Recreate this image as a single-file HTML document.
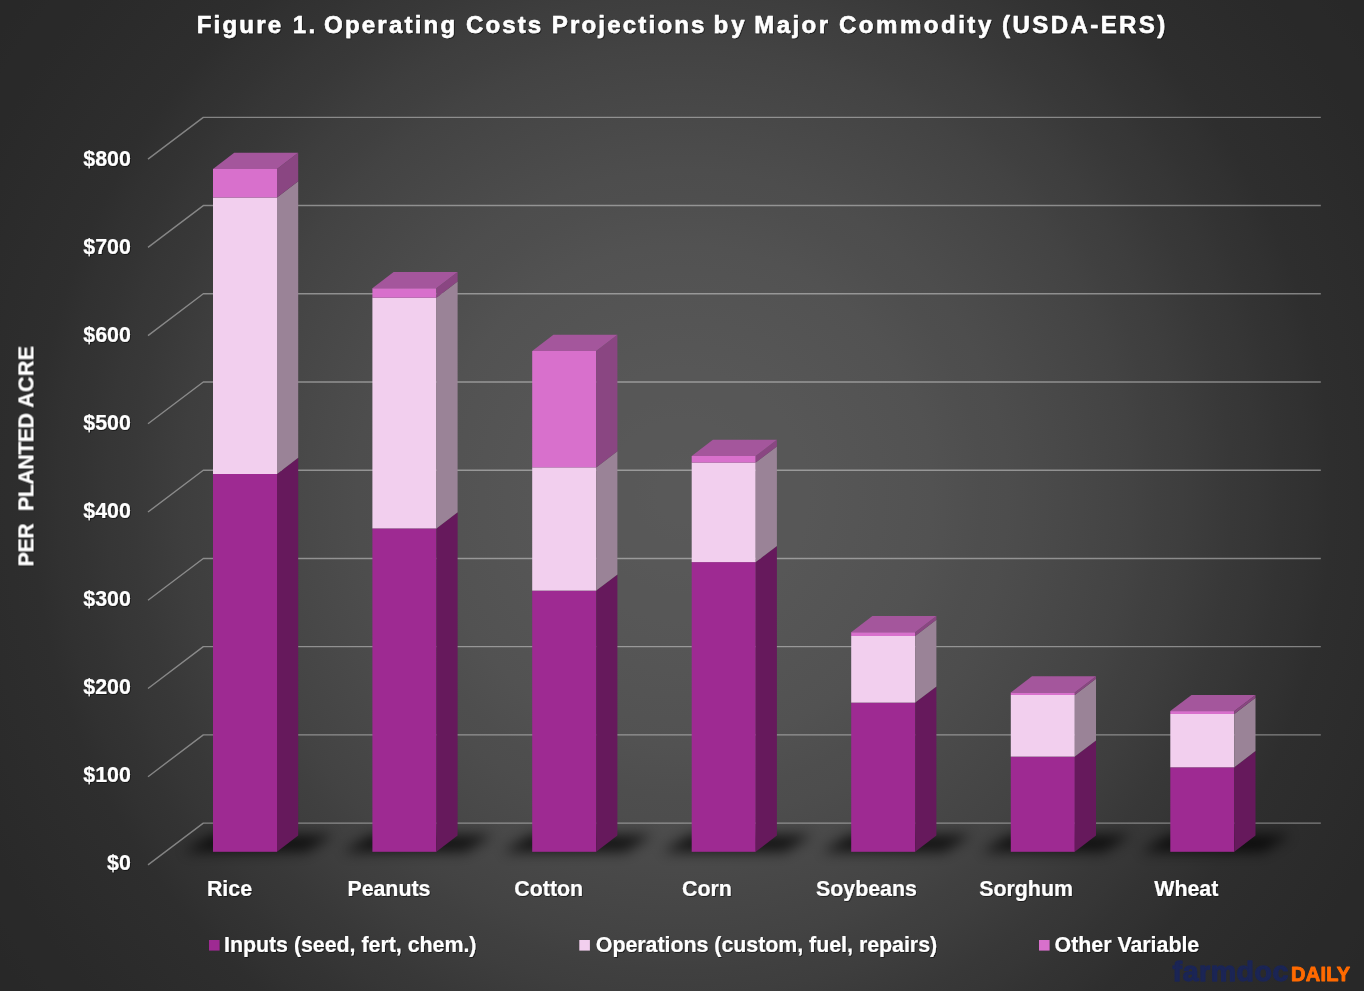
<!DOCTYPE html>
<html lang="en"><head><meta charset="utf-8"><title>Figure 1. Operating Costs Projections by Major Commodity (USDA-ERS)</title>
<style>html,body{margin:0;padding:0;background:#2b2b2b;}body{width:1364px;height:991px;overflow:hidden;font-family:"Liberation Sans",sans-serif;}svg{display:block}</style>
</head><body>
<svg width="1364" height="991" viewBox="0 0 1364 991">
<defs>
<radialGradient id="bg" gradientUnits="userSpaceOnUse" cx="682" cy="495.5" r="850">
<stop offset="0.0000" stop-color="#595959"/><stop offset="0.0294" stop-color="#595959"/><stop offset="0.0588" stop-color="#585858"/><stop offset="0.0882" stop-color="#585858"/><stop offset="0.1176" stop-color="#575757"/><stop offset="0.1471" stop-color="#575757"/><stop offset="0.1765" stop-color="#565656"/><stop offset="0.2059" stop-color="#555555"/><stop offset="0.2353" stop-color="#545454"/><stop offset="0.2647" stop-color="#535353"/><stop offset="0.2941" stop-color="#525252"/><stop offset="0.3235" stop-color="#505050"/><stop offset="0.3529" stop-color="#4e4e4e"/><stop offset="0.3824" stop-color="#4d4d4d"/><stop offset="0.4118" stop-color="#4b4b4b"/><stop offset="0.4412" stop-color="#494949"/><stop offset="0.4706" stop-color="#474747"/><stop offset="0.5000" stop-color="#454545"/><stop offset="0.5294" stop-color="#434343"/><stop offset="0.5588" stop-color="#404040"/><stop offset="0.5882" stop-color="#3e3e3e"/><stop offset="0.6176" stop-color="#3b3b3b"/><stop offset="0.6471" stop-color="#383838"/><stop offset="0.6765" stop-color="#363636"/><stop offset="0.7059" stop-color="#333333"/><stop offset="0.7353" stop-color="#313131"/><stop offset="0.7647" stop-color="#2e2e2e"/><stop offset="0.7941" stop-color="#2d2d2d"/><stop offset="0.8235" stop-color="#2c2c2c"/><stop offset="0.8529" stop-color="#2b2b2b"/><stop offset="0.8824" stop-color="#2a2a2a"/><stop offset="0.9118" stop-color="#292929"/><stop offset="0.9412" stop-color="#292929"/><stop offset="0.9706" stop-color="#282828"/><stop offset="1.0000" stop-color="#282828"/>
</radialGradient>
<filter id="blur" x="-30%" y="-80%" width="160%" height="260%"><feGaussianBlur stdDeviation="6.5"/></filter>
<filter id="ts" x="-5%" y="-20%" width="110%" height="150%"><feDropShadow dx="0.8" dy="0.9" stdDeviation="0.7" flood-color="#000" flood-opacity="0.55"/></filter>
</defs>
<rect width="1364" height="991" fill="url(#bg)"/>
<g stroke="#fff" stroke-opacity="0.4" stroke-width="1.4" stroke-linejoin="round" fill="none">
<path d="M148.00 159.15L203.30 117.35H1320.8"/>
<path d="M148.00 247.37L203.30 205.57H1320.8"/>
<path d="M148.00 335.59L203.30 293.79H1320.8"/>
<path d="M148.00 423.81L203.30 382.01H1320.8"/>
<path d="M148.00 512.03L203.30 470.23H1320.8"/>
<path d="M148.00 600.25L203.30 558.45H1320.8"/>
<path d="M148.00 688.47L203.30 646.67H1320.8"/>
<path d="M148.00 776.69L203.30 734.89H1320.8"/>
<path d="M148.00 864.91L203.30 823.11H1320.8"/>
</g>
<g filter="url(#blur)" fill="#000" opacity="0.74">
<path d="M184.0 851.8H306.0L333.2 835.1H211.2Z"/>
<path d="M343.4 851.8H465.4L492.6 835.1H370.6Z"/>
<path d="M503.2 851.8H625.2L652.4 835.1H530.4Z"/>
<path d="M662.7 851.8H784.7L811.9 835.1H689.9Z"/>
<path d="M822.2 851.8H944.2L971.4 835.1H849.4Z"/>
<path d="M981.8 851.8H1103.8L1131.0 835.1H1009.0Z"/>
<path d="M1141.3 851.8H1263.3L1290.5 835.1H1168.5Z"/>
</g>
<rect x="213.0" y="474.0" width="64.0" height="377.8" fill="#9E2A92"/>
<path d="M277.0 474.0L298.2 457.8V835.6L277.0 851.8Z" fill="#66195C"/>
<rect x="213.0" y="197.5" width="64.0" height="276.5" fill="#F2CFEE"/>
<path d="M277.0 197.5L298.2 181.3V457.8L277.0 474.0Z" fill="#9A8397"/>
<rect x="213.0" y="168.9" width="64.0" height="28.6" fill="#D870CC"/>
<path d="M277.0 168.9L298.2 152.7V181.3L277.0 197.5Z" fill="#8A4682"/>
<path d="M213.0 168.9L234.2 152.7H298.2L277.0 168.9Z" fill="#A4569C"/>
<rect x="372.4" y="528.4" width="64.0" height="323.4" fill="#9E2A92"/>
<path d="M436.4 528.4L457.6 512.2V835.6L436.4 851.8Z" fill="#66195C"/>
<rect x="372.4" y="297.7" width="64.0" height="230.7" fill="#F2CFEE"/>
<path d="M436.4 297.7L457.6 281.5V512.2L436.4 528.4Z" fill="#9A8397"/>
<rect x="372.4" y="288.2" width="64.0" height="9.5" fill="#D870CC"/>
<path d="M436.4 288.2L457.6 272.0V281.5L436.4 297.7Z" fill="#8A4682"/>
<path d="M372.4 288.2L393.6 272.0H457.6L436.4 288.2Z" fill="#A4569C"/>
<rect x="532.2" y="590.6" width="64.0" height="261.2" fill="#9E2A92"/>
<path d="M596.2 590.6L617.4 574.4V835.6L596.2 851.8Z" fill="#66195C"/>
<rect x="532.2" y="467.4" width="64.0" height="123.2" fill="#F2CFEE"/>
<path d="M596.2 467.4L617.4 451.2V574.4L596.2 590.6Z" fill="#9A8397"/>
<rect x="532.2" y="351.0" width="64.0" height="116.4" fill="#D870CC"/>
<path d="M596.2 351.0L617.4 334.8V451.2L596.2 467.4Z" fill="#8A4682"/>
<path d="M532.2 351.0L553.4 334.8H617.4L596.2 351.0Z" fill="#A4569C"/>
<rect x="691.7" y="562.1" width="64.0" height="289.7" fill="#9E2A92"/>
<path d="M755.7 562.1L776.9 545.9V835.6L755.7 851.8Z" fill="#66195C"/>
<rect x="691.7" y="462.6" width="64.0" height="99.5" fill="#F2CFEE"/>
<path d="M755.7 462.6L776.9 446.4V545.9L755.7 562.1Z" fill="#9A8397"/>
<rect x="691.7" y="456.0" width="64.0" height="6.6" fill="#D870CC"/>
<path d="M755.7 456.0L776.9 439.8V446.4L755.7 462.6Z" fill="#8A4682"/>
<path d="M691.7 456.0L712.9 439.8H776.9L755.7 456.0Z" fill="#A4569C"/>
<rect x="851.2" y="702.6" width="64.0" height="149.2" fill="#9E2A92"/>
<path d="M915.2 702.6L936.4 686.4V835.6L915.2 851.8Z" fill="#66195C"/>
<rect x="851.2" y="636.0" width="64.0" height="66.6" fill="#F2CFEE"/>
<path d="M915.2 636.0L936.4 619.8V686.4L915.2 702.6Z" fill="#9A8397"/>
<rect x="851.2" y="632.2" width="64.0" height="3.8" fill="#D870CC"/>
<path d="M915.2 632.2L936.4 616.0V619.8L915.2 636.0Z" fill="#8A4682"/>
<path d="M851.2 632.2L872.4 616.0H936.4L915.2 632.2Z" fill="#A4569C"/>
<rect x="1010.8" y="756.6" width="64.0" height="95.2" fill="#9E2A92"/>
<path d="M1074.8 756.6L1096.0 740.4V835.6L1074.8 851.8Z" fill="#66195C"/>
<rect x="1010.8" y="695.0" width="64.0" height="61.6" fill="#F2CFEE"/>
<path d="M1074.8 695.0L1096.0 678.8V740.4L1074.8 756.6Z" fill="#9A8397"/>
<rect x="1010.8" y="692.4" width="64.0" height="2.6" fill="#D870CC"/>
<path d="M1074.8 692.4L1096.0 676.2V678.8L1074.8 695.0Z" fill="#8A4682"/>
<path d="M1010.8 692.4L1032.0 676.2H1096.0L1074.8 692.4Z" fill="#A4569C"/>
<rect x="1170.3" y="767.3" width="64.0" height="84.5" fill="#9E2A92"/>
<path d="M1234.3 767.3L1255.5 751.1V835.6L1234.3 851.8Z" fill="#66195C"/>
<rect x="1170.3" y="714.0" width="64.0" height="53.3" fill="#F2CFEE"/>
<path d="M1234.3 714.0L1255.5 697.8V751.1L1234.3 767.3Z" fill="#9A8397"/>
<rect x="1170.3" y="711.1" width="64.0" height="2.9" fill="#D870CC"/>
<path d="M1234.3 711.1L1255.5 694.9V697.8L1234.3 714.0Z" fill="#8A4682"/>
<path d="M1170.3 711.1L1191.5 694.9H1255.5L1234.3 711.1Z" fill="#A4569C"/>
<g font-family="Liberation Sans, sans-serif" font-weight="bold" fill="#fff" stroke="#fff" stroke-width="0.15" stroke-linejoin="round" filter="url(#ts)">
<text y="33.3" font-size="24" stroke-width="0.55" xml:space="preserve"><tspan x="196.75" letter-spacing="2.2">Figure </tspan><tspan x="292.75" letter-spacing="2.5">1. </tspan><tspan x="324" letter-spacing="2.22">Operating </tspan><tspan x="466" letter-spacing="2.12">Costs </tspan><tspan x="551.75" letter-spacing="2.2">Projections </tspan><tspan x="713.5" letter-spacing="3.0">by </tspan><tspan x="754.25" letter-spacing="2.44">Major </tspan><tspan x="839" letter-spacing="2.53">Commodity </tspan><tspan x="1002" letter-spacing="2.44">(USDA-ERS)</tspan></text>
<text x="130.8" y="165.7" font-size="21.33" text-anchor="end">$800</text>
<text x="130.8" y="253.8" font-size="21.33" text-anchor="end">$700</text>
<text x="130.8" y="341.9" font-size="21.33" text-anchor="end">$600</text>
<text x="130.8" y="429.9" font-size="21.33" text-anchor="end">$500</text>
<text x="130.8" y="518.0" font-size="21.33" text-anchor="end">$400</text>
<text x="130.8" y="606.1" font-size="21.33" text-anchor="end">$300</text>
<text x="130.8" y="694.2" font-size="21.33" text-anchor="end">$200</text>
<text x="130.8" y="782.3" font-size="21.33" text-anchor="end">$100</text>
<text x="130.8" y="870.3" font-size="21.33" text-anchor="end">$0</text>
<text x="229.5" y="896" font-size="21.33" text-anchor="middle">Rice</text>
<text x="388.9" y="896" font-size="21.33" text-anchor="middle">Peanuts</text>
<text x="548.7" y="896" font-size="21.33" text-anchor="middle">Cotton</text>
<text x="707.0" y="896" font-size="21.33" text-anchor="middle">Corn</text>
<text x="866.5" y="896" font-size="21.33" text-anchor="middle">Soybeans</text>
<text x="1026.1" y="896" font-size="21.33" text-anchor="middle">Sorghum</text>
<text x="1186.3" y="896" font-size="21.33" text-anchor="middle">Wheat</text>
<text transform="translate(33.4 566.4) rotate(-90)" font-size="21.33" xml:space="preserve"><tspan x="0" letter-spacing="-0.3">PER  </tspan><tspan x="55.6" letter-spacing="-0.5">PLANTED </tspan><tspan x="158.8" letter-spacing="0.4">ACRE</tspan></text>
<text x="224" y="952.3" font-size="21.33">Inputs (seed, fert, chem.)</text>
<text x="595.8" y="952.3" font-size="21.33">Operations (custom, fuel, repairs)</text>
<text x="1054.6" y="952.3" font-size="21.33">Other Variable</text>
</g>
<rect x="209" y="940" width="10.6" height="10.6" fill="#9E2A92"/>
<rect x="579.3" y="940" width="10.6" height="10.6" fill="#F2CFEE"/>
<rect x="1039" y="940" width="10.6" height="10.6" fill="#D870CC"/>
<g font-family="Liberation Sans, sans-serif" font-weight="bold">
<text x="1172.6" y="980.6" font-size="28.5" fill="#1b2555" stroke="#1b2555" stroke-width="1.3" stroke-linejoin="round" letter-spacing="0.55">farmdoc</text>
<text x="1291" y="980.8" font-size="20" fill="#ff6a00" stroke="#ff6a00" stroke-width="0.9" stroke-linejoin="round" letter-spacing="0.25">DAILY</text>
</g>
</svg>
</body></html>
